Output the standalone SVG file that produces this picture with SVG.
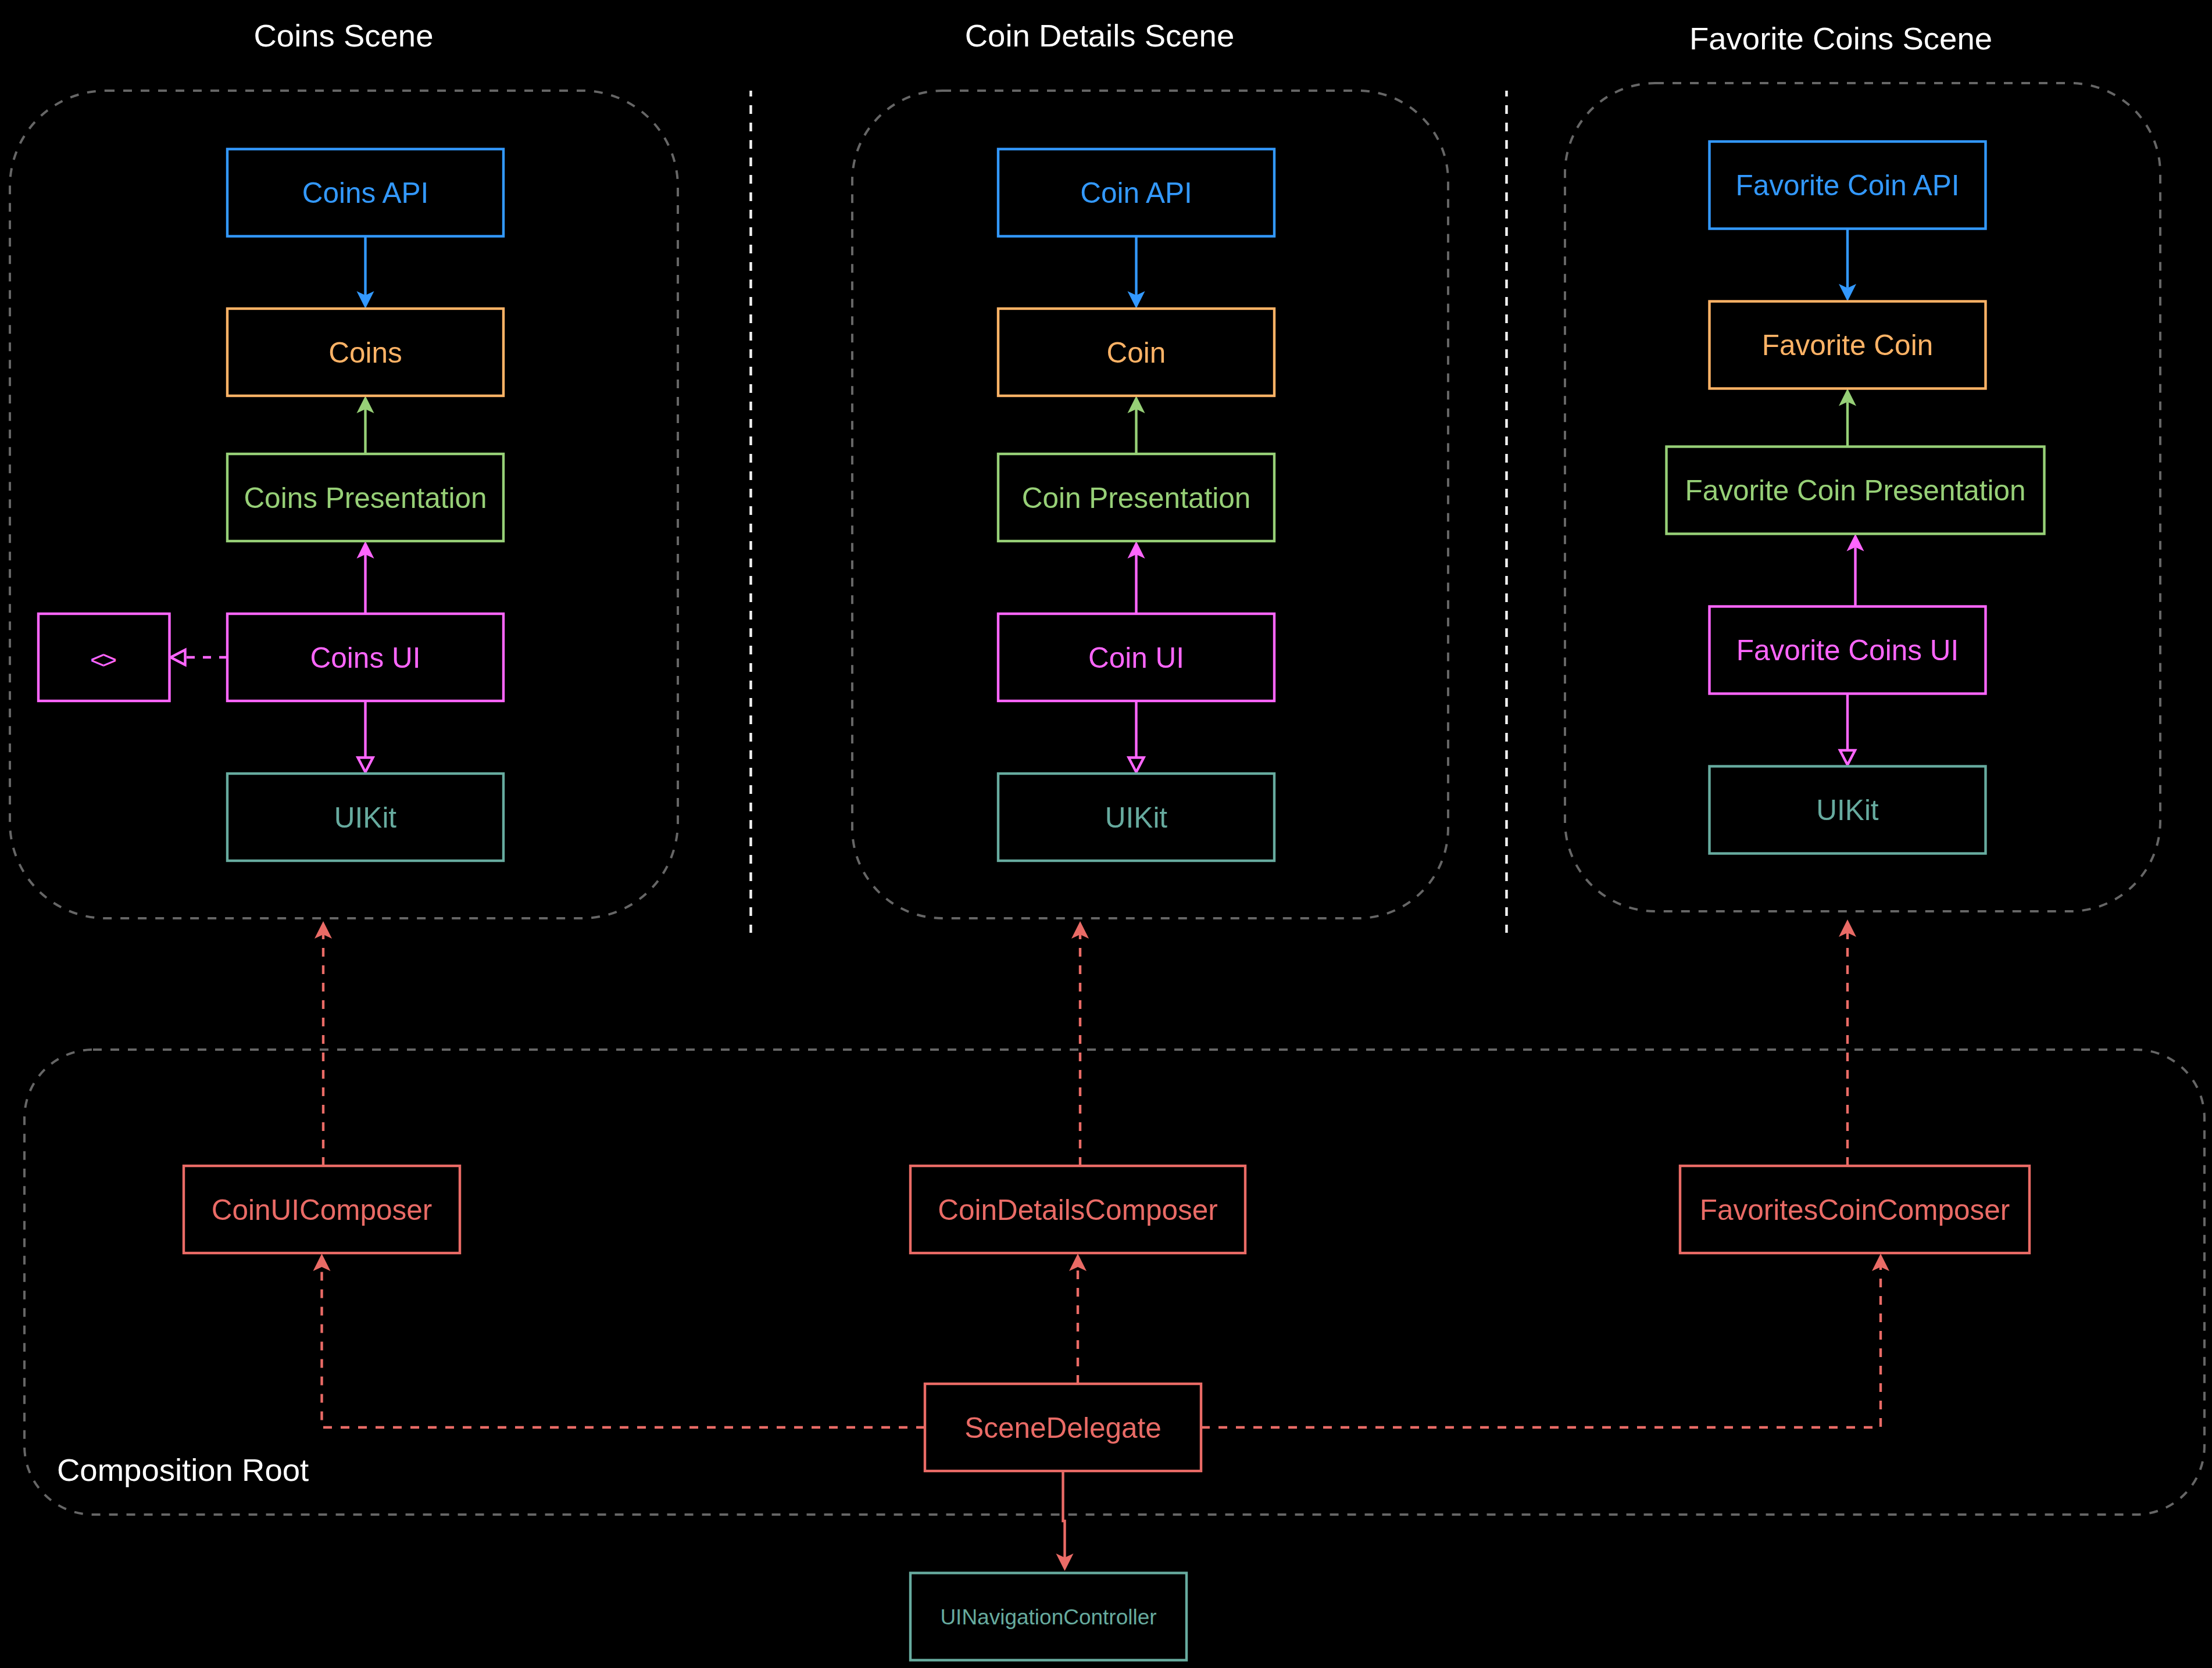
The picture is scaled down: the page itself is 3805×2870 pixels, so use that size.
<svg xmlns="http://www.w3.org/2000/svg" width="3805" height="2870" viewBox="0 0 3805 2870">
<defs>
<style>
text{font-family:"Liberation Sans",Arial,Helvetica,sans-serif}
.title{font-size:54.5px;fill:#ffffff;text-anchor:middle}
.lbl{font-size:49.5px;text-anchor:middle}
.box{fill:#000000;stroke-width:4.4}
.cont{fill:none;stroke:#666666;stroke-width:4;stroke-dasharray:15 15}
.sep{fill:none;stroke:#f0f0f0;stroke-width:4.5;stroke-dasharray:15 15;stroke-dashoffset:5}
.edge{fill:none;stroke-width:4.4}
.dash{stroke-dasharray:15 15}
.dashm{stroke-dasharray:14 14}
.sBlue{stroke:#3399FF}.fBlue{fill:#3399FF}
.sOrange{stroke:#FFB366}.fOrange{fill:#FFB366}
.sGreen{stroke:#97D077}.fGreen{fill:#97D077}
.sMag{stroke:#FF66FF}.fMag{fill:#FF66FF}
.sTeal{stroke:#67AB9F}.fTeal{fill:#67AB9F}
.sRed{stroke:#EA6B66}.fRed{fill:#EA6B66}
</style>
<marker id="aBlue" markerUnits="userSpaceOnUse" markerWidth="40" markerHeight="40" refX="7" refY="15" orient="auto" overflow="visible"><path d="M30,15 L0,0 L7,15 L0,30 Z" fill="#3399FF"/></marker>
<marker id="aGreen" markerUnits="userSpaceOnUse" markerWidth="40" markerHeight="40" refX="7" refY="15" orient="auto" overflow="visible"><path d="M30,15 L0,0 L7,15 L0,30 Z" fill="#97D077"/></marker>
<marker id="aMag" markerUnits="userSpaceOnUse" markerWidth="40" markerHeight="40" refX="7" refY="15" orient="auto" overflow="visible"><path d="M30,15 L0,0 L7,15 L0,30 Z" fill="#FF66FF"/></marker>
<marker id="aRed" markerUnits="userSpaceOnUse" markerWidth="40" markerHeight="40" refX="7" refY="15" orient="auto" overflow="visible"><path d="M30,15 L0,0 L7,15 L0,30 Z" fill="#EA6B66"/></marker>
<marker id="hMag" markerUnits="userSpaceOnUse" markerWidth="40" markerHeight="40" refX="0" refY="13" orient="auto" overflow="visible"><path d="M0,0 L25,13 L0,26 Z" fill="#000000" stroke="#FF66FF" stroke-width="4.4"/></marker>
</defs>
<rect x="0" y="0" width="3805" height="2870" fill="#000000"/>

<g id="coins-scene">
<rect class="cont" x="17" y="156" width="1149" height="1424" rx="165" ry="165"/>
<text class="title" x="591" y="80">Coins Scene</text>
</g>
<g id="coin-details-scene">
<rect class="cont" x="1466" y="156" width="1025" height="1424" rx="155" ry="155"/>
<text class="title" x="1891.5" y="80">Coin Details Scene</text>
</g>
<g id="favorite-coins-scene">
<rect class="cont" x="2692" y="143" width="1024" height="1425" rx="155" ry="155"/>
<text class="title" x="3166.5" y="85">Favorite Coins Scene</text>
</g>
<g id="composition-root">
<rect class="cont" x="42" y="1806" width="3750" height="800" rx="118" ry="118"/>
<text x="98" y="2548" font-size="54.5" fill="#ffffff">Composition Root</text>
</g>
<g id="separators">
<line class="sep" x1="1291.5" y1="156" x2="1291.5" y2="1605"/>
<line class="sep" x1="2591.5" y1="156" x2="2591.5" y2="1605"/>
</g>

<g id="connectors">
<path class="edge sBlue" d="M628.5,406.5 V508" marker-end="url(#aBlue)"/>
<path class="edge sGreen" d="M628.5,781 V704" marker-end="url(#aGreen)"/>
<path class="edge sMag" d="M628.5,1056 V954" marker-end="url(#aMag)"/>
<path class="edge sMag" d="M628.5,1206 V1303.5" marker-end="url(#hMag)"/>
<path class="edge sMag dashm" d="M391,1131 H318.5" marker-end="url(#hMag)"/>

<path class="edge sBlue" d="M1954.5,406.5 V508" marker-end="url(#aBlue)"/>
<path class="edge sGreen" d="M1954.5,781 V704" marker-end="url(#aGreen)"/>
<path class="edge sMag" d="M1954.5,1056 V954" marker-end="url(#aMag)"/>
<path class="edge sMag" d="M1954.5,1206 V1303.5" marker-end="url(#hMag)"/>

<path class="edge sBlue" d="M3178,393.5 V495.5" marker-end="url(#aBlue)"/>
<path class="edge sGreen" d="M3178,768.5 V691.5" marker-end="url(#aGreen)"/>
<path class="edge sMag" d="M3191.5,1043.5 V941.5" marker-end="url(#aMag)"/>
<path class="edge sMag" d="M3178,1193.5 V1291" marker-end="url(#hMag)"/>

<path class="edge sRed dash" d="M556,2006 V1608" marker-end="url(#aRed)"/>
<path class="edge sRed dash" d="M1858,2006 V1608" marker-end="url(#aRed)"/>
<path class="edge sRed dash" d="M3178,2006 V1605" marker-end="url(#aRed)"/>
<path class="edge sRed dash" d="M1591,2456 H553.5 V2180" marker-end="url(#aRed)"/>
<path class="edge sRed dash" d="M1854,2381 V2180" marker-end="url(#aRed)"/>
<path class="edge sRed dash" d="M2066,2456 H3235 V2180" marker-end="url(#aRed)"/>
<path class="edge sRed" d="M1828.5,2531 V2617 H1831.5 V2680" marker-end="url(#aRed)"/>
</g>

<g id="coins-api"><rect class="box sBlue" x="391" y="256.5" width="475" height="150"/><text class="lbl fBlue" x="628.5" y="349">Coins API</text></g>
<g id="coins"><rect class="box sOrange" x="391" y="531" width="475" height="150"/><text class="lbl fOrange" x="628.5" y="623.5">Coins</text></g>
<g id="coins-presentation"><rect class="box sGreen" x="391" y="781" width="475" height="150"/><text class="lbl fGreen" x="628.5" y="873.5">Coins Presentation</text></g>
<g id="coins-ui"><rect class="box sMag" x="391" y="1056" width="475" height="150"/><text class="lbl fMag" x="628.5" y="1148.5">Coins UI</text></g>
<g id="coins-uikit"><rect class="box sTeal" x="391" y="1331" width="475" height="150"/><text class="lbl fTeal" x="628.5" y="1423.5">UIKit</text></g>
<g id="coins-protocol"><rect class="box sMag" x="66" y="1056" width="225.5" height="150"/><text x="176" y="1150" font-size="43" letter-spacing="-4" text-anchor="middle" class="fMag">&lt;&gt;</text></g>

<g id="coin-api"><rect class="box sBlue" x="1717" y="256.5" width="475" height="150"/><text class="lbl fBlue" x="1954.5" y="349">Coin API</text></g>
<g id="coin"><rect class="box sOrange" x="1717" y="531" width="475" height="150"/><text class="lbl fOrange" x="1954.5" y="623.5">Coin</text></g>
<g id="coin-presentation"><rect class="box sGreen" x="1717" y="781" width="475" height="150"/><text class="lbl fGreen" x="1954.5" y="873.5">Coin Presentation</text></g>
<g id="coin-ui"><rect class="box sMag" x="1717" y="1056" width="475" height="150"/><text class="lbl fMag" x="1954.5" y="1148.5">Coin UI</text></g>
<g id="coin-uikit"><rect class="box sTeal" x="1717" y="1331" width="475" height="150"/><text class="lbl fTeal" x="1954.5" y="1423.5">UIKit</text></g>

<g id="favorite-coin-api"><rect class="box sBlue" x="2940.5" y="243.5" width="475" height="150"/><text class="lbl fBlue" x="3178" y="336">Favorite Coin API</text></g>
<g id="favorite-coin"><rect class="box sOrange" x="2940.5" y="518.5" width="475" height="150"/><text class="lbl fOrange" x="3178" y="611">Favorite Coin</text></g>
<g id="favorite-coin-presentation"><rect class="box sGreen" x="2866.5" y="768.5" width="650" height="150"/><text class="lbl fGreen" x="3191.5" y="861">Favorite Coin Presentation</text></g>
<g id="favorite-coins-ui"><rect class="box sMag" x="2940.5" y="1043.5" width="475" height="150"/><text class="lbl fMag" x="3178" y="1136">Favorite Coins UI</text></g>
<g id="favorite-uikit"><rect class="box sTeal" x="2940.5" y="1318.5" width="475" height="150"/><text class="lbl fTeal" x="3178" y="1411">UIKit</text></g>

<g id="coin-ui-composer"><rect class="box sRed" x="316" y="2006" width="475" height="150"/><text class="lbl fRed" x="553.5" y="2098.5">CoinUIComposer</text></g>
<g id="coin-details-composer"><rect class="box sRed" x="1566" y="2006" width="576" height="150"/><text class="lbl fRed" x="1854" y="2098.5">CoinDetailsComposer</text></g>
<g id="favorites-coin-composer"><rect class="box sRed" x="2890" y="2006" width="601" height="150"/><text class="lbl fRed" x="3190.5" y="2098.5">FavoritesCoinComposer</text></g>
<g id="scene-delegate"><rect class="box sRed" x="1591" y="2381" width="475" height="150"/><text class="lbl fRed" x="1828.5" y="2473.5">SceneDelegate</text></g>
<g id="ui-navigation-controller"><rect class="box sTeal" x="1566" y="2706.5" width="475" height="150"/><text x="1803.5" y="2795" font-size="37" text-anchor="middle" class="fTeal">UINavigationController</text></g>
</svg>
